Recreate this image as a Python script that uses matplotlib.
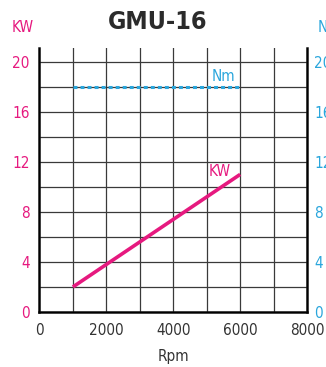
import matplotlib
matplotlib.use("Agg")
from matplotlib import pyplot as plt
import numpy as np

# GMU-16 performance curves
rpm = [1000, 6000]
kw = [2, 11]
nm = [18, 18]

x_ticks = [0, 2000, 4000, 6000, 8000]
y_ticks = [0, 4, 8, 12, 16, 20]

pink = '#e6197f'
blue = '#2aa6dc'
font = ['DejaVu Sans']
st = 'condensed'

fig = plt.figure(figsize=(3.26, 3.67), dpi=100)
ax = fig.add_axes([0.121, 0.150, 0.821, 0.719])

ax.plot(rpm, kw, color=pink, lw=2.6, solid_capstyle='butt')
ax.plot(rpm, nm, color=blue, lw=2.2, ls=(0, (1.3, 1.0)))

ax.set_xlim(0, 8000)
ax.set_ylim(0, 21.1)
ax.set_xticks(np.arange(0, 8001, 1000), minor=True)
ax.set_yticks(np.arange(0, 21, 2), minor=True)
ax.set_xticks(x_ticks)
ax.set_yticks(y_ticks)
ax.grid(True, which='both', color='#3a3a3a', lw=0.9)
ax.tick_params(which='both', length=0)
ax.tick_params(axis='x', pad=8)
ax.tick_params(axis='y', pad=7)
ax.set_xticklabels([str(t) for t in x_ticks], fontsize=11, color='#333333', family=font, fontstretch=st)
ax.set_yticklabels([str(t) for t in y_ticks], fontsize=11, color=pink, family=font, fontstretch=st)
ax.spines['top'].set_visible(False)
for s in ['left', 'right', 'bottom']:
    ax.spines[s].set_linewidth(1.8)
    ax.spines[s].set_color('#111111')

ax2 = ax.twinx()
ax2.set_ylim(0, 21.1)
ax2.set_yticks(y_ticks)
ax2.set_yticklabels([str(t) for t in y_ticks], fontsize=11, color=blue, family=font, fontstretch=st)
ax2.tick_params(length=0, pad=5)
ax2.spines['top'].set_visible(False)

ax.text(5150, 18.5, 'Nm', color=blue, fontsize=11, family=font, fontstretch=st)
ax.text(5050, 10.9, 'KW', color=pink, fontsize=11, family=font, fontstretch=st)

ax.set_xlabel('Rpm', fontsize=11, color='#333333', family=font, fontstretch=st, labelpad=8)
fig.text(0.035, 0.912, 'KW', color=pink, fontsize=11, family=font, fontstretch=st)
fig.text(0.975, 0.912, 'Nm', color=blue, fontsize=11, family=font, fontstretch=st)
fig.text(0.485, 0.940, 'GMU-16', color='#2b2b2b', fontsize=18, fontweight='heavy',
         family=font, fontstretch=st, ha='center', va='center')

fig.savefig('out.png', dpi=100)
